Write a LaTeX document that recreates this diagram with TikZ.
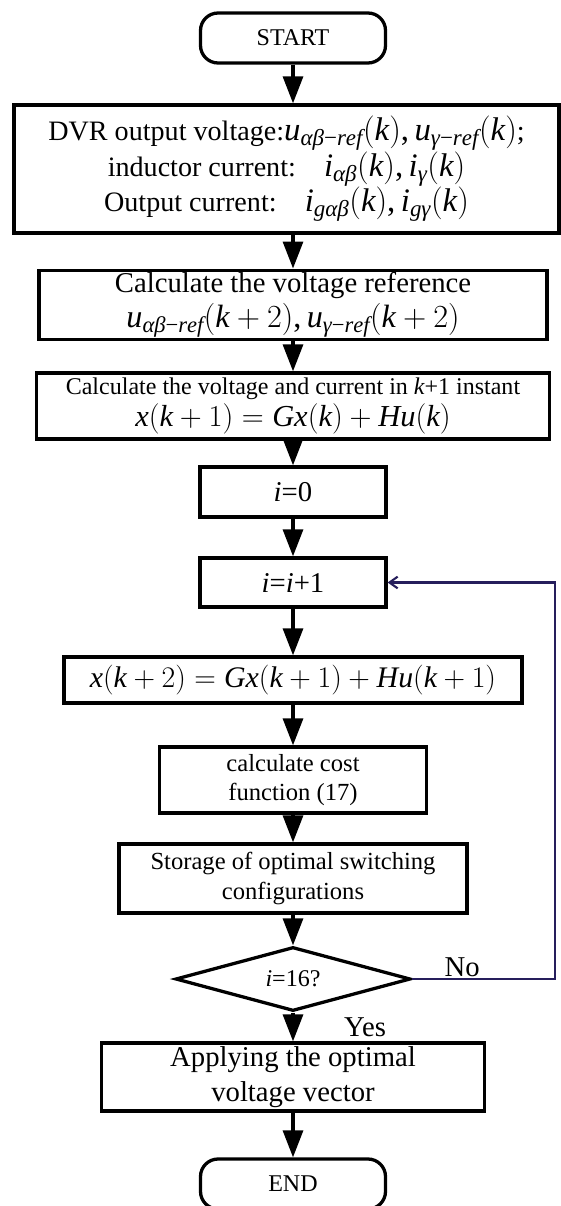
\RequirePackage{fix-cm}
\documentclass[tikz,border=0pt]{standalone}
\usepackage{fontspec}
\setmainfont{Liberation Serif}
\usetikzlibrary{arrows.meta, shapes.geometric}
\definecolor{cNavy}{RGB}{38,30,92}

%% math letters, digits and signs taken from the text font
\DeclareSymbolFont{tmsit}{TU}{\rmdefault}{m}{it}
\DeclareSymbolFont{tmsrm}{TU}{\rmdefault}{m}{n}
\newcount\chcnt
\chcnt=97
\loop \Umathcode\chcnt="7 \symtmsit \chcnt
  \advance\chcnt by 1 \ifnum\chcnt<123 \repeat
\chcnt=65
\loop \Umathcode\chcnt="7 \symtmsit \chcnt
  \advance\chcnt by 1 \ifnum\chcnt<91 \repeat
\chcnt=48
\loop \Umathcode\chcnt="7 \symtmsrm \chcnt
  \advance\chcnt by 1 \ifnum\chcnt<58 \repeat
\Umathcode`(="4 \symtmsrm `(
\Umathcode`)="5 \symtmsrm `)
\Umathcode`+="2 \symtmsrm `+
\Umathcode`=="3 \symtmsrm `=
\Umathcode`,="6 \symtmsrm `,
\Umathcode`-="2 \symtmsrm "2212
\Umathchardef\alpha="0 \symtmsit "03B1
\Umathchardef\beta="0 \symtmsit "03B2
\Umathchardef\gamma="0 \symtmsit "03B3

%% formula set a little larger than the text round it
\newcommand{\eqbig}[2]{{\fontsize{#1}{10}\selectfont$#2$}}

\tikzset{
  %% fonts
  fBig/.style={font=\fontsize{24.5}{28}\selectfont},
  fMid/.style={font=\fontsize{21}{25}\selectfont},
  fSmall/.style={font=\fontsize{20.5}{24}\selectfont},
  %% process boxes
  pbox/.style={rectangle, draw, line width=2.8pt, align=center, inner sep=2pt},
  %% start / end
  termbox/.style={pbox, rounded corners=15pt, minimum width=5.55cm,
                  minimum height=1.5cm, fSmall},
  %% decision
  decbox/.style={diamond, draw, line width=2.8pt, aspect=3.67, inner sep=0pt,
                 minimum width=7.05cm, minimum height=1.92cm, fSmall},
  %% arrows
  flow/.style={-{Triangle[length=23pt, width=17pt]}, line width=2.8pt},
  backflow/.style={-{Straight Barb[length=7pt, width=10pt]}, draw=cNavy,
                   line width=1.8pt},
  lbl/.style={fBig, inner sep=1pt},
}

\begin{document}
\begin{tikzpicture}[x=0.03cm, y=-0.03cm]
\useasboundingbox (0,0) rectangle (561,1206);

%% ============================================================
%%  main column at x = 293
%% ============================================================
\def\cx{293}

\node[termbox] (start) at (\cx, 38) {START};

\node[pbox, minimum width=16.35cm, minimum height=3.84cm,
      font=\fontsize{24}{27.3}\selectfont] (inbox) at (286.5, 169) {%
  DVR output voltage:\eqbig{28}{u_{\alpha\beta-ref}(k),u_{\gamma-ref}(k)};\\
  inductor current:\quad \eqbig{28}{i_{\alpha\beta}(k),i_{\gamma}(k)}\\
  Output current:\quad \eqbig{28}{i_{g\alpha\beta}(k),i_{g\gamma}(k)}};

\node[pbox, minimum width=15.24cm, minimum height=1.98cm,
      font=\fontsize{24.5}{30}\selectfont] (vref) at (\cx, 305) {%
  Calculate the voltage reference\\
  \eqbig{27.5}{u_{\alpha\beta-ref}(k+2),u_{\gamma-ref}(k+2)}};

\node[pbox, minimum width=15.39cm, minimum height=1.98cm,
      font=\fontsize{20.5}{28}\selectfont] (pred1) at (\cx, 406) {%
  Calculate the voltage and current in $k$+1 instant\\
  \eqbig{26}{x(k+1)=Gx(k)+Hu(k)}};

\node[pbox, fBig, minimum width=5.58cm, minimum height=1.5cm] (init) at (\cx, 492) {$i$=0};
\node[pbox, fBig, minimum width=5.58cm, minimum height=1.47cm] (incr) at (\cx, 582.5) {$i$=$i$+1};

\node[pbox, fBig, minimum width=13.74cm, minimum height=1.38cm] (pred2) at (\cx, 680)
  {\eqbig{25.5}{x(k+2)=Gx(k+1)+Hu(k+1)}};

\node[pbox, fMid, minimum width=8.01cm, minimum height=1.98cm] (cost) at (\cx, 780)
  {calculate cost\\function (17)};

\node[pbox, fMid, minimum width=10.44cm, minimum height=2.07cm] (store) at (\cx, 878.5)
  {Storage of optimal switching\\configurations};

\node[decbox] (check) at (\cx, 979) {$i$=16?};

\node[pbox, minimum width=11.49cm, minimum height=2.04cm,
      font=\fontsize{24.5}{30}\selectfont] (apply) at (\cx, 1077)
  {Applying the optimal\\voltage vector};

\node[termbox] (stop) at (\cx, 1184) {END};

%% ============================================================
%%  connectors
%% ============================================================
\draw[flow] (start) -- (start |- inbox.north);
\draw[flow] (inbox.south -| vref) -- (vref);
\draw[flow] (vref) -- (pred1);
\draw[flow] (pred1) -- (init);
\draw[flow] (init) -- (incr);
\draw[flow] (incr) -- (pred2);
\draw[flow] (pred2) -- (cost);
\draw[flow] (cost) -- (store);
\draw[flow] (store) -- (check);
\draw[flow] (check) -- node[lbl, anchor=west, xshift=1.45cm] (yeslbl) {Yes} (apply);
\draw[flow] (apply) -- (stop);

%% loop back (No)
\coordinate (loopc) at (555, 0);
\draw[backflow] (check.east)
  -- node[lbl, above, pos=0.35] (nolbl) {No} (check.east -| loopc)
  -- (incr.east -| loopc) -- (incr.east);

\end{tikzpicture}
\end{document}
